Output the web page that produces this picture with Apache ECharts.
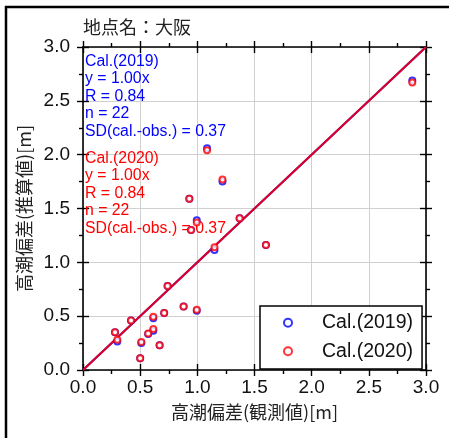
<!DOCTYPE html>
<html>
<head>
<meta charset="utf-8">
<script src="https://cdn.jsdelivr.net/npm/echarts@6/dist/echarts.min.js"></script>
<style>
  html, body { margin: 0; padding: 0; background: #fff; }
  #chart { width: 449px; height: 438px; }
</style>
</head>
<body>
<div id="chart"></div>
<script>
// 観測値 / 推算値 (大阪)
const obs = [2.88, 1.085, 1.22, 0.93, 0.995, 0.945, 1.37, 1.15, 1.60, 0.74, 0.88,
             0.995, 0.71, 0.615, 0.42, 0.28, 0.30, 0.615, 0.57, 0.51, 0.67, 0.50];
const cal2019 = [2.69, 2.06, 1.75, 1.59, 1.39, 1.30, 1.41, 1.115, 1.16, 0.78, 0.59,
                 0.55, 0.53, 0.48, 0.46, 0.35, 0.265, 0.365, 0.335, 0.25, 0.23, 0.11];
const cal2020 = [2.67, 2.04, 1.77, 1.59, 1.37, 1.30, 1.41, 1.14, 1.16, 0.78, 0.59,
                 0.56, 0.53, 0.495, 0.46, 0.35, 0.28, 0.38, 0.34, 0.26, 0.23, 0.11];
const seriesNames = ['Cal.(2019)', 'Cal.(2020)'];
const slopes = [1.00, 1.00];
const stats2019 = ['Cal.(2019)', 'y = 1.00x', 'R = 0.84', 'n = 22', 'SD(cal.-obs.) = 0.37'];
const stats2020 = ['Cal.(2020)', 'y = 1.00x', 'R = 0.84', 'n = 22', 'SD(cal.-obs.) = 0.37'];
const axisMin = 0, axisMax = 3.0, axisStep = 0.5;
const siteTitle = '地点名：大阪';
const xName = '高潮偏差(観測値)[m]';
const yName = '高潮偏差(推算値)[m]';

const pts = (ys) => obs.map((x, i) => [x, ys[i]]);
const fitLine = (k) => [[axisMin, axisMin * k], [axisMax, axisMax * k]];

const font = '"Liberation Sans", Arial, "Noto Sans CJK JP", sans-serif';
const cjk = '"Noto Sans CJK JP", "Liberation Sans", sans-serif';

function valueAxis(pos, inner, main) {
  return {
    type: 'value', position: pos, min: axisMin, max: axisMax, interval: axisStep,
    axisLine: { show: !inner, onZero: false, lineStyle: { color: '#000', width: 1.6 } },
    axisTick: { show: true, inside: inner, length: 6, lineStyle: { color: '#000', width: 1.4 } },
    minorTick: { show: !inner, splitNumber: 2, length: 4, lineStyle: { color: '#000', width: 1.4 } },
    axisLabel: main ? {
      show: true, fontSize: 19, color: '#111', fontFamily: font,
      margin: pos === 'bottom' ? 8 : 13,
      formatter: v => v.toFixed(1)
    } : { show: false },
    splitLine: { show: main, lineStyle: { color: '#d0d0d0', width: 1 } },
    minorSplitLine: { show: false }
  };
}

const xAx = valueAxis('bottom', false, true);
Object.assign(xAx, { name: xName, nameLocation: 'middle', nameGap: 33,
  nameTextStyle: { fontSize: 18, color: '#222', fontFamily: cjk } });
const yAx = valueAxis('left', false, true);
Object.assign(yAx, { name: yName, nameLocation: 'middle', nameGap: 45,
  nameTextStyle: { fontSize: 18, color: '#222', fontFamily: cjk } });

const statText = (lines, color, top) => ({
  type: 'text', left: 85, top: top, z: 1,
  style: { text: lines.join('\n'), fill: color, font: '15.8px ' + font, lineHeight: 17.4 }
});

const chart = echarts.init(document.getElementById('chart'));
chart.setOption({
  animation: false,
  backgroundColor: '#fff',
  grid: { left: 83, right: 23, top: 47, bottom: 68 },
  xAxis: [xAx, valueAxis('bottom', true, false), valueAxis('top', false, false), valueAxis('top', true, false)],
  yAxis: [yAx, valueAxis('left', true, false), valueAxis('right', false, false), valueAxis('right', true, false)],
  legend: {
    data: seriesNames, orient: 'vertical', align: 'left',
    left: 260, top: 306,
    itemWidth: 8, itemHeight: 8, itemGap: 9,
    padding: [7, 9, 8, 23],
    borderColor: '#000', borderWidth: 1.5, backgroundColor: '#fff',
    textStyle: { fontSize: 19.5, color: '#111', fontFamily: font, padding: [0, 0, 0, 25] }
  },
  graphic: [
    { type: 'line', shape: { x1: 5, y1: 7, x2: 449, y2: 7 }, style: { stroke: '#000', lineWidth: 2.5 } },
    { type: 'line', shape: { x1: 6, y1: 6, x2: 6, y2: 438 }, style: { stroke: '#000', lineWidth: 2.5 } },
    { type: 'text', left: 83, top: 18, style: { text: siteTitle, fill: '#222', font: '18px ' + cjk } },
    statText(stats2019, '#0000ff', 53),
    statText(stats2020, '#ff0000', 150)
  ],
  series: [
    { name: 'fit2019', type: 'line', data: fitLine(slopes[0]), symbol: 'none', z: 3,
      lineStyle: { color: '#0000ff', width: 2 } },
    { name: 'fit2020', type: 'line', data: fitLine(slopes[1]), symbol: 'none', z: 3,
      lineStyle: { color: '#ff0000', width: 2, opacity: 0.88 } },
    { name: seriesNames[0], type: 'scatter', data: pts(cal2019), symbol: 'emptyCircle', symbolSize: 6, z: 4,
      itemStyle: { color: '#0000ff', borderColor: '#0000ff', borderWidth: 2.6 } },
    { name: seriesNames[1], type: 'scatter', data: pts(cal2020), symbol: 'emptyCircle', symbolSize: 6, z: 5,
      itemStyle: { color: '#ff0000', borderColor: '#ff0000', borderWidth: 2.6 } }
  ]
});
</script>
</body>
</html>
